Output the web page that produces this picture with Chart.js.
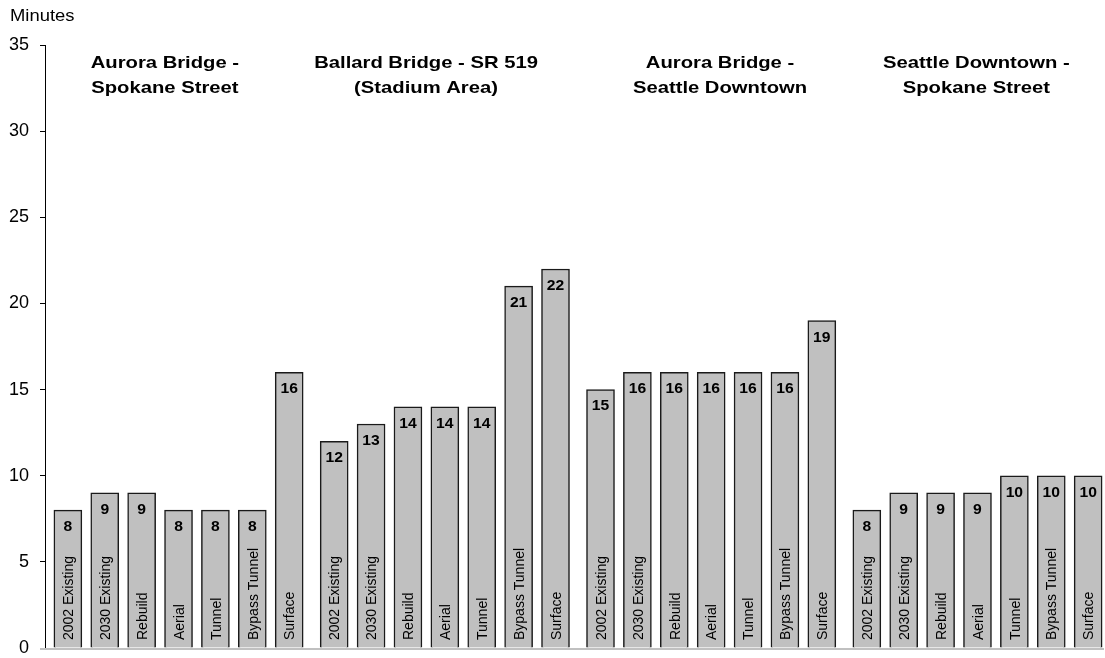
<!DOCTYPE html>
<html>
<head>
<meta charset="utf-8">
<script src="https://cdn.jsdelivr.net/npm/chart.js@4"></script>
<style>
  html, body { margin: 0; padding: 0; background: #fff; }
  #wrap { width: 1105px; height: 658px; }
</style>
</head>
<body>
<div id="wrap"><canvas id="graphic"></canvas></div>
<script>
  // scenario labels (same in every group)
  const scenarios = ["2002 Existing", "2030 Existing", "Rebuild", "Aerial", "Tunnel", "Bypass Tunnel", "Surface"];

  // group titles, two lines each
  const groupTitles = [
    ["Aurora Bridge -", "Spokane Street"],
    ["Ballard Bridge - SR 519", "(Stadium Area)"],
    ["Aurora Bridge -", "Seattle Downtown"],
    ["Seattle Downtown -", "Spokane Street"]
  ];

  // travel times in minutes
  const auroraSpokane = [8, 9, 9, 8, 8, 8, 16];
  const ballardStadium = [12, 13, 14, 14, 14, 21, 22];
  const auroraDowntown = [15, 16, 16, 16, 16, 16, 19];
  const downtownSpokane = [8, 9, 9, 9, 10, 10, 10];

  const yTicks = [0, 5, 10, 15, 20, 25, 30, 35];

  const groups = [auroraSpokane, ballardStadium, auroraDowntown, downtownSpokane];
  const GAP = 0.22; // extra space between groups (in bar slots)
  const titleAt = [2.63, 9.71, 17.68, 24.63];

  let points = [];
  let labels = [];
  groups.forEach(function (vals, g) {
    vals.forEach(function (v, i) {
      points.push({ x: g * 7 + i + g * GAP, y: v });
      labels.push(scenarios[i]);
    });
  });

  function stretchText(ctx, txt, x, y, sx) {
    ctx.save();
    ctx.translate(x, y);
    ctx.scale(sx, 1);
    ctx.fillText(txt, 0, 0);
    ctx.restore();
  }

  const annotate = {
    id: "annotate",
    afterDatasetsDraw(chart) {
      const ctx = chart.ctx;
      const area = chart.chartArea;
      const xs = chart.scales.x;
      const bars = chart.getDatasetMeta(0).data;

      // baseline
      ctx.save();
      ctx.strokeStyle = "#c0c0c0";
      ctx.lineWidth = 2;
      ctx.beginPath();
      ctx.moveTo(area.left - 5, area.bottom + 1);
      ctx.lineTo(area.right, area.bottom + 1);
      ctx.stroke();

      ctx.fillStyle = "#000";
      ctx.textAlign = "center";
      ctx.textBaseline = "middle";

      // values at top of each bar
      ctx.font = "bold 14px 'Liberation Sans', Arial, sans-serif";
      bars.forEach(function (b, i) {
        stretchText(ctx, String(points[i].y), b.x, b.y + 17, 1.12);
      });

      // scenario names, rotated inside the bars
      ctx.font = "14px 'Liberation Sans', Arial, sans-serif";
      ctx.textAlign = "left";
      bars.forEach(function (b, i) {
        ctx.save();
        ctx.translate(b.x + 1, area.bottom - 8);
        ctx.rotate(-Math.PI / 2);
        ctx.scale(1, 1.1);
        ctx.fillText(labels[i], 0, 0);
        ctx.restore();
      });

      // group titles
      ctx.textAlign = "center";
      ctx.font = "bold 17px 'Liberation Sans', Arial, sans-serif";
      groupTitles.forEach(function (t, g) {
        const cx = xs.getPixelForValue(titleAt[g]);
        stretchText(ctx, t[0], cx, 63, 1.19);
        stretchText(ctx, t[1], cx, 88, 1.19);
      });

      // axis title
      ctx.textAlign = "left";
      ctx.font = "16px 'Liberation Sans', Arial, sans-serif";
      stretchText(ctx, "Minutes", 10, 17, 1.15);
      ctx.restore();
    }
  };

  var ctx = document.getElementById("graphic").getContext("2d");
  var chart = new Chart(ctx, {
    type: "bar",
    data: {
      datasets: [
        {
          label: "Minutes",
          data: points,
          backgroundColor: "#c0c0c0",
          borderColor: "#1a1a1a",
          borderWidth: 1.5,
          borderSkipped: "bottom",
          barThickness: 28,
        },
      ],
    },
    options: {
      responsive: true,
      maintainAspectRatio: false,
      animation: false,
      layout: { padding: { top: 45, right: 1, bottom: 10, left: 0 } },
      plugins: {
        legend: { display: false },
        tooltip: { enabled: false },
      },
      scales: {
        x: {
          type: "linear",
          display: false,
          offset: false,
          min: -0.62,
          max: 28.09,
        },
        y: {
          min: 0,
          max: 35,
          afterBuildTicks: function (s) {
            s.ticks = yTicks.map(function (v) { return { value: v }; });
          },
          afterFit: function (s) {
            s.width = 45;
            s.paddingTop = 0;
            s.paddingBottom = 0;
          },
          grid: {
            drawOnChartArea: false,
            drawTicks: true,
            tickLength: 5,
            color: "#000",
          },
          border: { display: true, color: "#000", width: 1 },
          ticks: {
            color: "#000",
            padding: 11,
            font: { family: "'Liberation Sans', Arial, sans-serif", size: 18 },
          },
        },
      },
    },
    plugins: [annotate],
  });
</script>
</body>
</html>
